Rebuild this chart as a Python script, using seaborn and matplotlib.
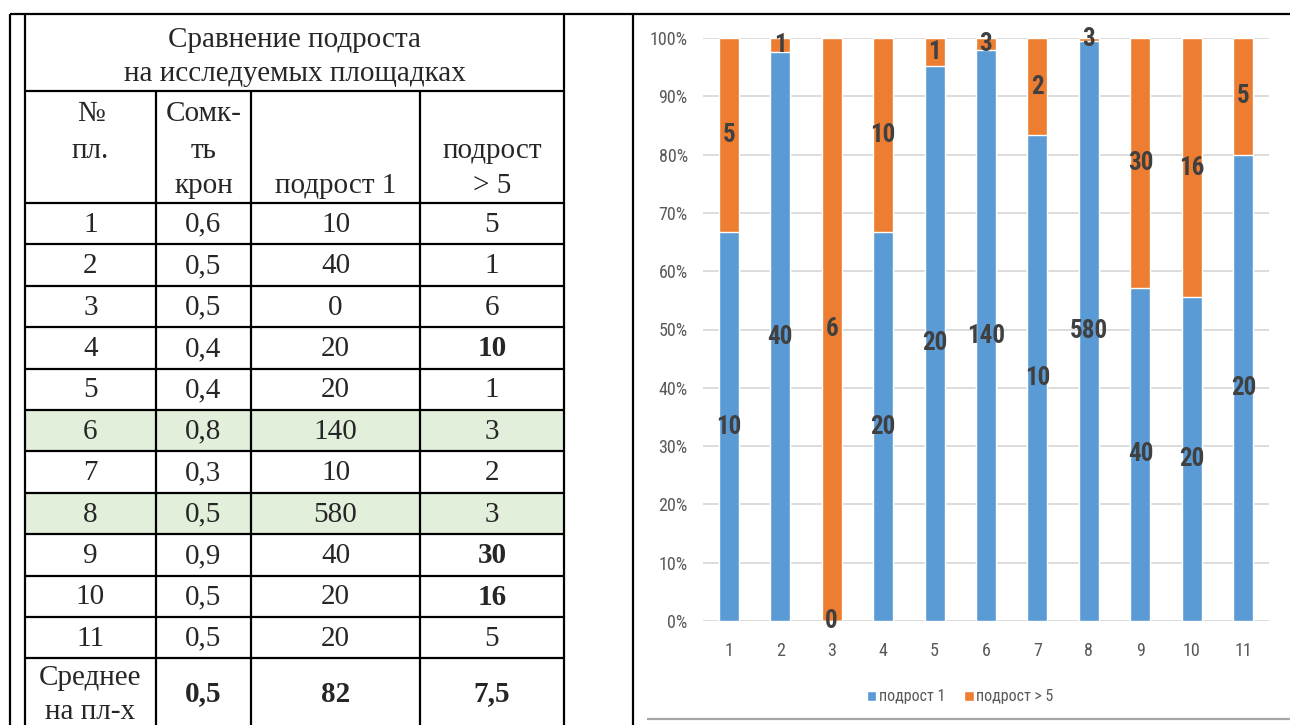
import matplotlib
matplotlib.use("Agg")
import matplotlib.pyplot as plt
from matplotlib import font_manager
from matplotlib.font_manager import FontProperties
from matplotlib.patches import Patch, Rectangle
import numpy as np
import pandas as pd
import seaborn as sns

# ---- data -------------------------------------------------------------
plots = ["1", "2", "3", "4", "5", "6", "7", "8", "9", "10", "11"]
closure = [0.6, 0.5, 0.5, 0.4, 0.4, 0.8, 0.3, 0.5, 0.9, 0.5, 0.5]
young1 = [10, 40, 0, 20, 20, 140, 10, 580, 40, 20, 20]
young5 = [5, 1, 6, 10, 1, 3, 2, 3, 30, 16, 5]
highlight_rows = ["6", "8"]

title_lines = ["Сравнение подроста", "на исследуемых площадках"]
header_cols = [["№", "пл."], ["Сомк-", "ть", "крон"], ["подрост 1"], ["подрост", "> 5"]]
avg_label = ["Среднее", "на пл-х"]
series_names = ["подрост 1", "подрост > 5"]
ytick_labels = ["0%", "10%", "20%", "30%", "40%", "50%", "60%", "70%", "80%", "90%", "100%"]

BLUE = "#5B9BD5"
ORANGE = "#ED7D31"
GREEN = "#E2EFDA"

sns.set_style("white")
plt.rcParams["font.family"] = ["Liberation Serif", "DejaVu Serif"]


def narrow_font(bold):
    """Pick a condensed sans face for the chart texts, if one is installed."""
    prefs = ["liberationsansnarrow", "robotocondensed", "opensans_condensed",
             "opensanscondensed", "dejavusanscondensed", "notosanscondensed",
             "opensans_semicondensed"]
    fonts = font_manager.fontManager.ttflist
    for key in prefs:
        cands = []
        for f in fonts:
            fn = f.fname.lower().replace("-", "").replace(" ", "")
            if key in fn and "italic" not in fn and "oblique" not in fn:
                cands.append(f)
        if not cands:
            continue
        want = 700 if bold else 400
        def score(f):
            w = f.weight if isinstance(f.weight, int) else (700 if "bold" in str(f.weight) else 400)
            fn = f.fname.lower()
            pen = 0
            if not bold and "bold" in fn:
                pen += 500
            for bad in ("light", "thin", "medium", "semibold", "extrabold", "black"):
                if bad in fn:
                    pen += 200
            return abs(w - want) + pen
        best = min(cands, key=score)
        return FontProperties(fname=best.fname)
    return FontProperties(family="Liberation Sans", weight="bold" if bold else "normal")


fp_reg = narrow_font(False)
fp_bold = narrow_font(True)

W, H = 1290, 725
fig = plt.figure(figsize=(W / 100, H / 100), dpi=100)

# ---- table drawn in pixel coordinates ----------------------------------
bg = fig.add_axes([0, 0, 1, 1])
bg.set_xlim(0, W)
bg.set_ylim(H, 0)
bg.axis("off")

LW = 1.6
col_x = [25, 156, 251, 420, 564]
col_c = [(col_x[i] + col_x[i + 1]) / 2 for i in range(4)]
y_top, y_title, y_head = 14, 91, 203
row_h = 41.4
row_y = [y_head + row_h * k for k in range(len(plots) + 1)]

# green shading of selected rows
for i, p in enumerate(plots):
    if p in highlight_rows:
        bg.add_patch(Rectangle((col_x[0], row_y[i]), col_x[-1] - col_x[0], row_h,
                               facecolor=GREEN, edgecolor="none", zorder=0))

# frame lines
bg.plot([10, W], [y_top, y_top], color="black", lw=LW, solid_capstyle="butt")
for x in (10, col_x[0], col_x[-1], 633):
    bg.plot([x, x], [y_top, H], color="black", lw=LW, solid_capstyle="butt")
for x in col_x[1:-1]:
    bg.plot([x, x], [y_title, H], color="black", lw=LW, solid_capstyle="butt")
for y in [y_title] + row_y:
    bg.plot([col_x[0], col_x[-1]], [y, y], color="black", lw=LW, solid_capstyle="butt")
bg.plot([647, W], [719, 719], color="#A6A6A6", lw=1.6, solid_capstyle="butt")

FS = 21
tc = (col_x[0] + col_x[-1]) / 2
for line, y in zip(title_lines, (40, 74)):
    bg.text(tc, y, line, ha="center", va="center", fontsize=FS)

line_y = [114, 151, 186]
for c, lines in enumerate(header_cols):
    ys = line_y[:len(lines)] if c == 0 else line_y[-len(lines):]
    for line, y in zip(lines, ys):
        bg.text(col_c[c], y, line, ha="center", va="center", fontsize=FS)

for i, p in enumerate(plots):
    yc = row_y[i] + row_h / 2 + 1
    cells = [p, f"{closure[i]:.1f}".replace(".", ","), str(young1[i]), str(young5[i])]
    for c, txt in enumerate(cells):
        bold = (c == 3 and young5[i] >= 10)
        bg.text(col_c[c], yc, txt, ha="center", va="center", fontsize=FS,
                fontweight="bold" if bold else "normal")

# average row
for line, y in zip(avg_label, (678, 712)):
    bg.text(col_c[0], y, line, ha="center", va="center", fontsize=FS)
avgs = [np.mean(closure), np.mean(young1), np.mean(young5)]
avg_txt = [f"{avgs[0]:.1f}".replace(".", ","), f"{avgs[1]:.0f}", f"{avgs[2]:.1f}".replace(".", ",")]
for c, txt in enumerate(avg_txt, start=1):
    bg.text(col_c[c], 694, txt, ha="center", va="center", fontsize=FS, fontweight="bold")

# ---- 100 % stacked bar chart -------------------------------------------
tot = np.array(young1) + np.array(young5)
df = pd.DataFrame({
    "plot": plots,
    "share1": np.array(young1) / tot,
    "share5": np.array(young5) / tot,
})
df["total"] = df["share1"] + df["share5"]

ax_l, ax_r, ax_t, ax_b = 703, 1269, 38, 621
ax = fig.add_axes([ax_l / W, (H - ax_b) / H, (ax_r - ax_l) / W, (ax_b - ax_t) / H])
sns.barplot(data=df, x="plot", y="total", color=ORANGE, saturation=1, width=0.39,
            errorbar=None, ax=ax, zorder=2)
sns.barplot(data=df, x="plot", y="share1", color=BLUE, saturation=1, width=0.39,
            errorbar=None, ax=ax, zorder=3)
ax.set_xlim(-0.5, len(plots) - 0.5)
ax.set_ylim(0, 1)
ax.set_yticks(np.linspace(0, 1, len(ytick_labels)))
ax.set_yticklabels(ytick_labels)
ax.set_xlabel("")
ax.set_ylabel("")
ax.set_axisbelow(True)
ax.yaxis.grid(True, color="#D9D9D9", lw=1.3)
ax.xaxis.grid(False)
for s in ax.spines.values():
    s.set_visible(False)
ax.tick_params(axis="both", length=0, labelcolor="#595959")
ax.tick_params(axis="y", pad=11)
ax.tick_params(axis="x", pad=15)
for lab in ax.get_xticklabels() + ax.get_yticklabels():
    lab.set_fontproperties(fp_reg)
    lab.set_fontsize(13)

for i in range(len(plots)):
    s1 = df["share1"][i]
    s5 = df["share5"][i]
    for val, yv in ((young1[i], s1 / 2), (young5[i], s1 + s5 / 2)):
        t = ax.text(i, yv, str(val), ha="center", va="center",
                    color="#404040", zorder=5, fontproperties=fp_bold)
        t.set_fontsize(18)
        t.set_fontweight("bold")

handles = [Patch(facecolor=BLUE, label=series_names[0]),
           Patch(facecolor=ORANGE, label=series_names[1])]
leg_fp = fp_reg.copy()
leg_fp.set_size(11.5)
leg = fig.legend(handles=handles, loc="center", ncol=2, frameon=False,
                 bbox_to_anchor=(960 / W, (H - 697) / H),
                 handlelength=0.6, handleheight=0.6, handletextpad=0.15,
                 columnspacing=1.2, prop=leg_fp)
for t in leg.get_texts():
    t.set_color("#595959")

fig.savefig("out.png", dpi=100)
